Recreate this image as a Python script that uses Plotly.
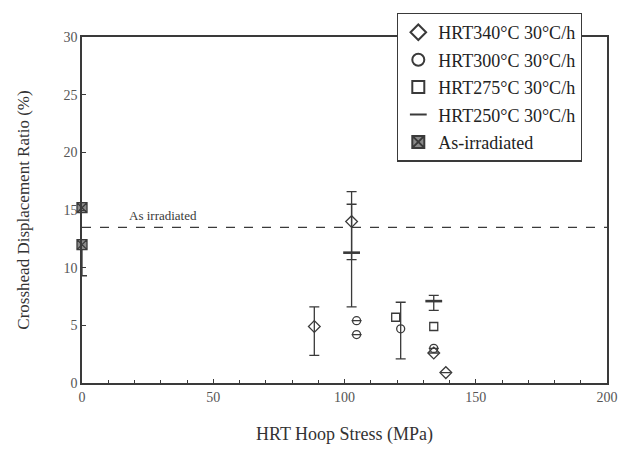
import plotly.graph_objects as go

# HRT hoop stress (MPa) and crosshead displacement ratio (%)
hrt340_x = [88.5, 102.7, 134.0, 138.6]
hrt340_y = [4.9, 14.0, 2.6, 0.9]
hrt340_up = [1.7, 1.5, 0.0, 0.0]
hrt340_dn = [2.5, 3.3, 0.0, 0.0]

hrt300_x = [104.6, 104.6, 121.4, 134.0]
hrt300_y = [5.4, 4.2, 4.7, 3.0]
hrt300_up = [0.0, 0.0, 2.3, 0.0]
hrt300_dn = [0.0, 0.0, 2.6, 0.0]

hrt275_x = [119.5, 134.0]
hrt275_y = [5.7, 4.9]

hrt250_x = [102.7, 134.0]
hrt250_y = [11.3, 7.1]
hrt250_up = [5.3, 0.5]
hrt250_dn = [4.7, 0.8]

asirr_x = [0.0, 0.0]
asirr_y = [15.2, 12.0]
asirr_up = [0.0, 0.0]
asirr_dn = [0.0, 2.7]

asirr_level = 13.5

ink = "#3a3a3a"
serif = "Liberation Serif, Times New Roman, serif"

fig = go.Figure()

def err(up, dn):
    return dict(type="data", symmetric=False, array=up, arrayminus=dn,
                color=ink, thickness=1.3, width=5)

fig.add_trace(go.Scatter(
    x=hrt340_x, y=hrt340_y, mode="markers", name="HRT340°C 30°C/h", legendgroup="g1",
    error_y=err(hrt340_up, hrt340_dn),
    marker=dict(symbol="diamond-open", size=9, color=ink, line=dict(width=1.3, color=ink))))
fig.add_trace(go.Scatter(
    x=hrt300_x, y=hrt300_y, mode="markers", name="HRT300°C 30°C/h", legendgroup="g2",
    error_y=err(hrt300_up, hrt300_dn),
    marker=dict(symbol="circle-open", size=8, color=ink, line=dict(width=1.3, color=ink))))
fig.add_trace(go.Scatter(
    x=hrt275_x, y=hrt275_y, mode="markers", name="HRT275°C 30°C/h", legendgroup="g3",
    marker=dict(symbol="square-open", size=8, color=ink, line=dict(width=1.3, color=ink))))
fig.add_trace(go.Scatter(
    x=hrt250_x, y=hrt250_y, mode="markers", name="HRT250°C 30°C/h", legendgroup="g4",
    error_y=err(hrt250_up, hrt250_dn),
    marker=dict(symbol="line-ew", size=12, color=ink, line=dict(width=2.6, color=ink))))
fig.add_trace(go.Scatter(
    x=asirr_x, y=asirr_y, mode="markers", name="As-irradiated", legendgroup="g5",
    error_y=err(asirr_up, asirr_dn),
    marker=dict(symbol="square-x", size=10, color="#8a8a8a", line=dict(width=1.3, color=ink)),
    cliponaxis=False))

# As-irradiated reference level
fig.add_shape(type="line", x0=0, x1=200, y0=asirr_level, y1=asirr_level,
              line=dict(color=ink, width=1.3, dash="dash"))
fig.add_annotation(x=31, y=asirr_level, yshift=12, text="As irradiated", showarrow=False,
                   font=dict(family=serif, size=13, color=ink))

axis_common = dict(showline=True, linecolor=ink, linewidth=1.5, mirror=True,
                   showgrid=False, zeroline=False, ticks="inside", ticklen=4,
                   tickcolor=ink, tickfont=dict(family=serif, size=14, color="#555"))

fig.update_xaxes(range=[0, 200], tickvals=[0, 50, 100, 150, 200],
                 minor=dict(dtick=10, ticks="inside", ticklen=3, tickcolor=ink),
                 title=dict(text="HRT Hoop Stress (MPa)", font=dict(family=serif, size=18, color="#333"),
                            standoff=24),
                 **axis_common)
fig.update_yaxes(range=[0, 30], tickvals=[0, 5, 10, 15, 20, 25, 30],
                 title=dict(text="Crosshead Displacement Ratio (%)",
                            font=dict(family=serif, size=17, color="#333"), standoff=30),
                 **axis_common)

fig.update_layout(
    width=630, height=453,
    margin=dict(l=82, r=13, t=37, b=69),
    plot_bgcolor="white", paper_bgcolor="white",
    showlegend=True,
    legend=dict(x=0.6, y=1.07, xanchor="left", yanchor="top",
                bgcolor="white", bordercolor=ink, borderwidth=1.3,
                font=dict(family=serif, size=18, color="#222"),
                itemsizing="constant", itemwidth=30,
                traceorder="grouped", tracegroupgap=1),
)

fig.write_html("out.html")
